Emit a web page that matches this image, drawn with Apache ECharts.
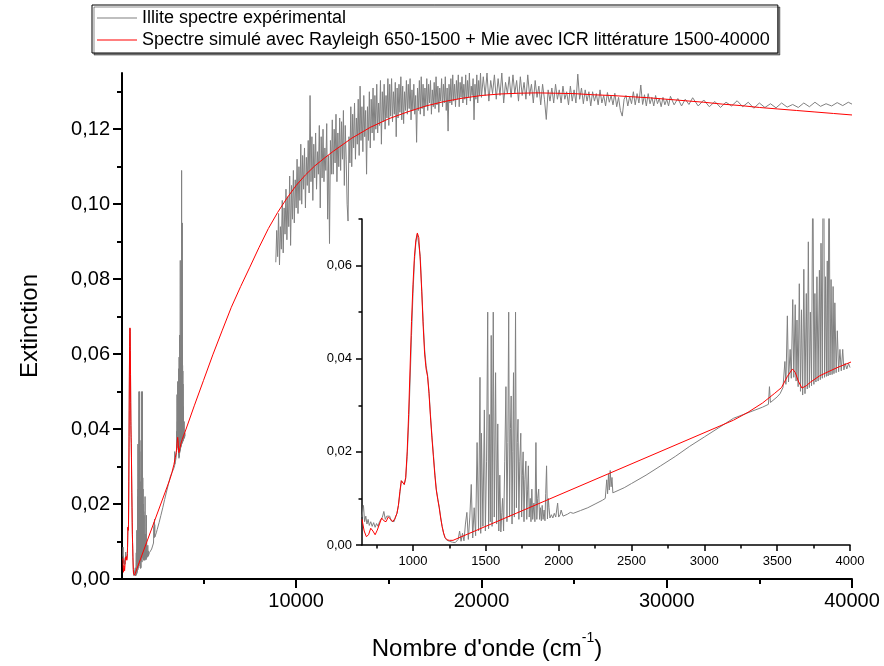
<!DOCTYPE html>
<html><head><meta charset="utf-8">
<script src="https://cdn.jsdelivr.net/npm/echarts@6/dist/echarts.min.js"></script>
<style>html,body{margin:0;padding:0;background:#fff}#c{width:884px;height:666px}</style>
</head><body><div id="c"></div><script>
const expName = 'Illite spectre expérimental';
const simName = 'Spectre simulé avec Rayleigh 650-1500 + Mie avec ICR littérature 1500-40000';
const xTitle = "Nombre d'onde (cm";
const xTitleSup = '-1';
const yTitle = 'Extinction';

const mainXTicks = [10000, 20000, 30000, 40000];
const mainXMinor = [5000, 15000, 25000, 35000];
const mainYTicks = [0, 0.02, 0.04, 0.06, 0.08, 0.10, 0.12];
const mainYMinor = [0.01, 0.03, 0.05, 0.07, 0.09, 0.11, 0.13];
const insetXTicks = [1000, 1500, 2000, 2500, 3000, 3500, 4000];
const insetXMinor = [750, 1250, 1750, 2250, 2750, 3250, 3750];
const insetYTicks = [0, 0.02, 0.04, 0.06];
const insetYMinor = [0.01, 0.03, 0.05, 0.07];

// experimental spectrum, infrared part (650-4000 cm-1)
const expIR = [
[650,0.0060],[660,0.0085],[668,0.0050],[676,0.0062],[684,0.0045],[692,0.0055],[700,0.0042],[710,0.0050],[720,0.0040],[730,0.0048],
[740,0.0038],[750,0.0046],[760,0.0040],[770,0.0050],[780,0.0048],[790,0.0060],[800,0.0072],[810,0.0055],[820,0.0062],[830,0.0058],
[840,0.0062],[850,0.0052],[860,0.0055],[870,0.0050],[880,0.0060],[890,0.0068],[900,0.0085],[910,0.0110],[920,0.0138],[930,0.0135],
[940,0.0130],[950,0.0142],[960,0.0190],[970,0.0260],[980,0.0350],[990,0.0450],[1000,0.0540],[1010,0.0610],[1020,0.0650],[1030,0.0668],
[1040,0.0665],[1050,0.0620],[1060,0.0550],[1070,0.0480],[1080,0.0420],[1090,0.0385],[1100,0.0365],[1110,0.0330],[1120,0.0280],[1130,0.0235],
[1140,0.0195],[1150,0.0155],[1160,0.0120],[1170,0.0100],[1180,0.0082],[1190,0.0060],[1200,0.0040],[1210,0.0025],[1220,0.0016],[1230,0.0011],
[1240,0.0009],[1250,0.0008],[1260,0.0007],[1270,0.0006],[1280,0.0006],[1290,0.0005],[1300,0.0006],[1310,0.0012],[1320,0.0030],[1330,0.0008],
[1340,0.0025],[1350,0.0009],[1360,0.0045],[1370,0.0070],[1380,0.0012],[1390,0.0060],[1400,0.0130],[1410,0.0015],[1420,0.0080],[1430,0.0020],
[1440,0.0220],[1450,0.0030],[1460,0.0360],[1465,0.0025],[1470,0.0240],[1480,0.0040],[1490,0.0290],[1497,0.0030],[1505,0.0180],[1513,0.0500],
[1519,0.0035],[1525,0.0280],[1531,0.0050],[1537,0.0450],[1543,0.0040],[1551,0.0500],[1558,0.0060],[1567,0.0370],[1574,0.0045],[1582,0.0260],
[1589,0.0030],[1596,0.0150],[1603,0.0028],[1610,0.0070],[1615,0.0100],[1622,0.0030],[1630,0.0180],[1638,0.0340],[1645,0.0050],[1651,0.0220],
[1657,0.0500],[1663,0.0060],[1669,0.0250],[1674,0.0320],[1680,0.0045],[1685,0.0200],[1690,0.0370],[1696,0.0060],[1704,0.0500],[1710,0.0080],
[1716,0.0220],[1721,0.0270],[1727,0.0055],[1733,0.0180],[1740,0.0240],[1746,0.0060],[1751,0.0150],[1756,0.0200],[1762,0.0050],[1768,0.0140],
[1775,0.0180],[1781,0.0055],[1787,0.0120],[1792,0.0170],[1798,0.0060],[1805,0.0100],[1810,0.0050],[1816,0.0120],[1822,0.0055],[1830,0.0090],
[1837,0.0050],[1844,0.0220],[1850,0.0055],[1856,0.0100],[1863,0.0120],[1869,0.0055],[1875,0.0080],[1881,0.0052],[1887,0.0085],[1893,0.0055],
[1900,0.0075],[1906,0.0052],[1911,0.0110],[1917,0.0170],[1923,0.0056],[1929,0.0100],[1934,0.0080],[1940,0.0058],[1950,0.0065],[1960,0.0058],
[1970,0.0068],[1980,0.0060],[1993,0.0090],[2000,0.0060],[2010,0.0065],[2017,0.0075],[2030,0.0062],[2060,0.0066],[2080,0.0070],[2100,0.0068],
[2150,0.0074],[2200,0.0080],[2250,0.0088],[2300,0.0096],[2320,0.0100],[2330,0.0140],[2336,0.0110],[2342,0.0152],[2348,0.0118],[2354,0.0160],
[2360,0.0125],[2366,0.0145],[2372,0.0112],[2380,0.0112],[2450,0.0123],[2500,0.0132],[2600,0.0150],[2700,0.0170],[2800,0.0190],[2900,0.0212],
[3000,0.0232],[3100,0.0252],[3150,0.0262],[3200,0.0272],[3300,0.0284],[3400,0.0296],[3440,0.0302],[3447,0.0340],[3454,0.0306],[3500,0.0318],
[3520,0.0325],[3540,0.0338],[3553,0.0394],[3560,0.0345],[3570,0.0492],[3578,0.0350],[3589,0.0420],[3597,0.0358],[3607,0.0527],[3614,0.0360],
[3624,0.0516],[3630,0.0352],[3636,0.0483],[3644,0.0340],[3652,0.0561],[3660,0.0330],[3667,0.0505],[3675,0.0322],[3683,0.0592],[3691,0.0325],
[3700,0.0540],[3707,0.0335],[3714,0.0651],[3721,0.0338],[3728,0.0500],[3736,0.0342],[3745,0.0850],[3752,0.0345],[3759,0.0540],[3766,0.0350],
[3773,0.0576],[3781,0.0352],[3790,0.0590],[3796,0.0355],[3801,0.0648],[3810,0.0358],[3818,0.1090],[3825,0.0360],[3832,0.0576],[3838,0.0362],
[3844,0.0610],[3850,0.0363],[3856,0.0950],[3863,0.0365],[3870,0.0570],[3877,0.0366],[3884,0.0555],[3890,0.0368],[3896,0.0520],[3905,0.0370],
[3913,0.0460],[3922,0.0372],[3931,0.0420],[3940,0.0374],[3950,0.0420],[3958,0.0376],[3967,0.0390],[3978,0.0378],[3990,0.0390],[4000,0.0381]
];

// experimental spectrum, visible/UV part (8900-40000 cm-1)
const expVisUV = [
[8900,0.0845],[8950,0.0930],[9000,0.0860],[9050,0.0975],[9100,0.0838],[9150,0.0940],[9200,0.0880],[9250,0.1010],[9300,0.0870],[9350,0.0990],
[9400,0.0920],[9450,0.1040],[9500,0.0905],[9550,0.1020],[9600,0.0940],[9650,0.1075],[9700,0.0890],[9750,0.1050],[9800,0.0960],[9850,0.1090],
[9900,0.0950],[9950,0.1065],[10000,0.0990],[10050,0.1120],[10100,0.0975],[10150,0.1100],[10200,0.1010],[10250,0.1160],[10300,0.1000],[10350,0.1130],
[10400,0.1040],[10450,0.1150],[10500,0.0990],[10550,0.1125],[10600,0.1050],[10650,0.1170],[10700,0.1030],[10750,0.1290],[10800,0.1060],[10850,0.1180],
[10900,0.1010],[10950,0.1160],[11000,0.1070],[11050,0.1190],[11100,0.1040],[11150,0.1140],[11200,0.1080],[11250,0.1210],[11300,0.0990],[11350,0.1180],
[11400,0.1070],[11450,0.1200],[11500,0.1060],[11550,0.1150],[11600,0.1090],[11650,0.1215],[11700,0.0960],[11750,0.1130],[11800,0.0895],[11850,0.1170],
[11900,0.1080],[11950,0.1225],[12000,0.1080],[12050,0.1200],[12100,0.1110],[12150,0.1240],[12200,0.1060],[12250,0.1190],[12300,0.1100],[12350,0.1230],
[12400,0.1090],[12450,0.1220],[12500,0.1120],[12550,0.1250],[12600,0.1050],[12650,0.1210],[12700,0.1120],[12750,0.1000],[12800,0.0955],[12850,0.1180],
[12900,0.1110],[12950,0.1260],[13000,0.1100],[13050,0.1240],[13100,0.1150],[13150,0.1270],[13200,0.1120],[13250,0.1230],[13300,0.1160],[13350,0.1280],
[13400,0.1130],[13450,0.1315],[13500,0.1170],[13550,0.1260],[13600,0.1140],[13650,0.1290],[13700,0.1180],[13750,0.1250],[13800,0.1080],[13850,0.1260],
[13900,0.1170],[13950,0.1300],[14000,0.1150],[14050,0.1280],[14100,0.1190],[14150,0.1310],[14200,0.1170],[14250,0.1290],[14300,0.1200],[14350,0.1320],
[14400,0.1190],[14450,0.1270],[14500,0.1210],[14550,0.1330],[14600,0.1160],[14650,0.1300],[14700,0.1220],[14750,0.1320],[14800,0.1200],[14850,0.1290],
[14900,0.1230],[14950,0.1335],[15000,0.1210],[15050,0.1320],[15100,0.1235],[15150,0.1335],[15200,0.1220],[15250,0.1300],[15300,0.1240],[15350,0.1325],
[15400,0.1180],[15450,0.1310],[15500,0.1230],[15550,0.1320],[15600,0.1245],[15650,0.1340],[15700,0.1225],[15750,0.1315],[15800,0.1215],[15850,0.1300],
[15900,0.1250],[15950,0.1330],[16000,0.1240],[16050,0.1320],[16100,0.1255],[16150,0.1335],[16200,0.1225],[16250,0.1305],[16300,0.1250],[16350,0.1320],
[16400,0.1240],[16450,0.1290],[16500,0.1165],[16550,0.1310],[16600,0.1250],[16650,0.1330],[16700,0.1240],[16750,0.1340],[16800,0.1255],[16850,0.1320],
[16900,0.1235],[16950,0.1310],[17000,0.1260],[17050,0.1335],[17100,0.1250],[17150,0.1320],[17200,0.1270],[17250,0.1330],[17300,0.1240],[17350,0.1305],
[17400,0.1260],[17450,0.1325],[17500,0.1255],[17550,0.1340],[17600,0.1265],[17650,0.1315],[17700,0.1245],[17750,0.1310],[17800,0.1275],[17850,0.1335],
[17900,0.1260],[17950,0.1320],[18000,0.1270],[18050,0.1340],[18100,0.1250],[18150,0.1310],[18200,0.1195],[18250,0.1320],[18300,0.1270],[18350,0.1335],
[18400,0.1265],[18450,0.1345],[18500,0.1275],[18550,0.1320],[18600,0.1260],[18650,0.1330],[18700,0.1280],[18750,0.1345],[18800,0.1260],[18850,0.1325],
[18900,0.1285],[18950,0.1340],[19000,0.1270],[19050,0.1320],[19100,0.1280],[19150,0.1345],[19200,0.1265],[19250,0.1330],[19300,0.1285],[19350,0.1350],
[19400,0.1275],[19450,0.1315],[19500,0.1290],[19550,0.1335],[19600,0.1225],[19650,0.1320],[19700,0.1280],[19750,0.1345],[19800,0.1270],[19850,0.1330],
[19900,0.1290],[19950,0.1350],[20000,0.1285],[20100,0.1340],[20200,0.1290],[20300,0.1350],[20400,0.1275],[20500,0.1330],[20600,0.1295],[20700,0.1345],
[20800,0.1280],[20900,0.1335],[21000,0.1290],[21100,0.1350],[21200,0.1270],[21300,0.1325],[21400,0.1295],[21500,0.1340],[21600,0.1285],[21700,0.1345],
[21800,0.1295],[21900,0.1330],[22000,0.1275],[22100,0.1340],[22200,0.1290],[22300,0.1325],[22400,0.1280],[22500,0.1345],[22600,0.1290],[22700,0.1320],
[22800,0.1270],[22900,0.1330],[23000,0.1285],[23100,0.1315],[23200,0.1265],[23300,0.1320],[23400,0.1280],[23500,0.1226],[23600,0.1305],[23700,0.1275],
[23800,0.1310],[23900,0.1270],[24000,0.1320],[24100,0.1280],[24200,0.1305],[24300,0.1270],[24400,0.1315],[24500,0.1280],[24600,0.1300],[24700,0.1265],
[24800,0.1315],[24900,0.1275],[25000,0.1305],[25100,0.1270],[25200,0.1347],[25300,0.1280],[25400,0.1310],[25500,0.1268],[25600,0.1305],[25700,0.1275],
[25800,0.1300],[25900,0.1262],[26000,0.1300],[26100,0.1275],[26200,0.1295],[26300,0.1265],[26400,0.1305],[26500,0.1270],[26600,0.1290],[26700,0.1262],
[26800,0.1298],[26900,0.1272],[27000,0.1290],[27100,0.1265],[27200,0.1296],[27300,0.1260],[27400,0.1285],[27500,0.1250],[27600,0.1235],[27700,0.1280],
[27800,0.1290],[27900,0.1262],[28000,0.1288],[28100,0.1268],[28200,0.1300],[28300,0.1265],[28400,0.1295],[28500,0.1270],[28600,0.1318],[28700,0.1266],
[28800,0.1292],[28900,0.1262],[29000,0.1295],[29100,0.1268],[29200,0.1285],[29300,0.1262],[29400,0.1290],[29500,0.1268],[29600,0.1282],[29700,0.1260],
[29800,0.1285],[29900,0.1265],[30000,0.1280],[30100,0.1262],[30200,0.1288],[30400,0.1265],[30600,0.1282],[30800,0.1262],[31000,0.1280],[31200,0.1266],
[31400,0.1284],[31700,0.1262],[32000,0.1278],[32300,0.1260],[32600,0.1274],[32900,0.1258],[33200,0.1272],[33500,0.1262],[33800,0.1276],[34100,0.1260],
[34400,0.1272],[34700,0.1256],[35000,0.1270],[35300,0.1258],[35600,0.1268],[35900,0.1257],[36200,0.1270],[36500,0.1259],[36800,0.1266],[37100,0.1258],
[37400,0.1270],[37700,0.1260],[38000,0.1272],[38300,0.1261],[38600,0.1268],[38900,0.1262],[39200,0.1271],[39500,0.1263],[39800,0.1272],[40000,0.1267]
];

// simulated spectrum
const simSpectrum = [
[650,0.0055],[665,0.0030],[680,0.0018],[695,0.0022],[710,0.0036],[725,0.0030],[740,0.0022],[755,0.0032],[770,0.0045],[785,0.0058],
[800,0.0052],[815,0.0050],[830,0.0060],[845,0.0056],[860,0.0050],[875,0.0056],[890,0.0068],[900,0.0085],[910,0.0115],[920,0.0138],
[930,0.0135],[940,0.0130],[950,0.0145],[960,0.0200],[970,0.0280],[980,0.0380],[990,0.0480],[1000,0.0560],[1010,0.0620],[1020,0.0655],
[1030,0.0670],[1040,0.0660],[1050,0.0610],[1060,0.0545],[1070,0.0470],[1080,0.0410],[1090,0.0378],[1100,0.0362],[1110,0.0325],[1120,0.0275],
[1130,0.0230],[1140,0.0190],[1150,0.0150],[1160,0.0118],[1170,0.0098],[1180,0.0080],[1190,0.0058],[1200,0.0040],[1210,0.0026],[1220,0.0016],
[1235,0.0011],[1250,0.0010],[1275,0.0010],[3200,0.0268],[3300,0.0285],[3400,0.0305],[3480,0.0325],[3530,0.0338],[3570,0.0362],[3605,0.0378],
[3625,0.0370],[3645,0.0352],[3670,0.0337],[3700,0.0342],[3730,0.0350],[3790,0.0363],[3850,0.0372],[3920,0.0382],[4000,0.0392],[4500,0.0462],
[5000,0.0530],[5500,0.0598],[6000,0.0662],[6500,0.0725],[7000,0.0780],[7500,0.0832],[8000,0.0885],[8500,0.0935],[9000,0.0978],[9500,0.1016],
[10000,0.1050],[10500,0.1078],[11000,0.1102],[11500,0.1122],[12000,0.1141],[13000,0.1176],[14000,0.1205],[15000,0.1228],[16000,0.1246],[17000,0.1262],
[18000,0.1274],[19000,0.1283],[20000,0.1290],[21000,0.1294],[22000,0.1296],[23000,0.1297],[24000,0.1296],[25000,0.1295],[26000,0.1292],[27000,0.1290],
[28000,0.1287],[29000,0.1284],[30000,0.1280],[31000,0.1276],[32000,0.1272],[33000,0.1267],[34000,0.1263],[35000,0.1258],[36000,0.1254],[37000,0.1250],
[38000,0.1246],[39000,0.1242],[40000,0.1238]
];

const expSpectrum = expIR.concat([[6500, null]], expVisUV);

const FONT = 'Liberation Sans, Arial, sans-serif';
const fmtY = v => v.toFixed(2).replace('.', ',');
const fmtX = v => String(v);

function axis(o) {
  return {
    type: 'value', gridIndex: o.grid, min: o.min, max: o.max, position: o.pos,
    axisLine: {show: o.line, onZero: false, lineStyle: {color: '#000', width: o.w}},
    axisTick: {show: true, inside: false, length: o.len, customValues: o.ticks, lineStyle: {color: '#000', width: o.w}},
    axisLabel: o.labels ? {show: true, customValues: o.ticks, fontSize: o.fs, color: '#000', fontFamily: FONT, margin: o.margin, formatter: o.fmt} : {show: false},
    splitLine: {show: false},
    name: o.name || '', nameLocation: 'middle', nameGap: o.nameGap || 0,
    nameTextStyle: o.nameStyle || {},
    silent: true
  };
}

const chart = echarts.init(document.getElementById('c'), null, {renderer: 'canvas'});
chart.setOption({
  animation: false,
  backgroundColor: '#fff',
  legend: {
    orient: 'vertical', left: 92, top: 5, padding: [3, 8, 3, 5],
    itemWidth: 40, itemHeight: 1, itemGap: 2,
    borderColor: '#000', borderWidth: 1, backgroundColor: '#fff',
    shadowColor: 'rgba(0,0,0,0.45)', shadowOffsetX: 2, shadowOffsetY: 2, shadowBlur: 0,
    selectedMode: false,
    textStyle: {fontSize: 18, color: '#000', fontFamily: FONT, lineHeight: 20},
    data: [{name: expName, icon: 'rect'}, {name: simName, icon: 'rect'}]
  },
  grid: [
    {left: 122, top: 73, width: 730, height: 509, containLabel: false},
    {left: 362, top: 219, width: 488, height: 326, containLabel: false}
  ],
  xAxis: [
    axis({grid: 0, min: 600, max: 40000, pos: 'bottom', line: true, w: 2, len: 9, ticks: mainXTicks, labels: true, fs: 20, margin: 12, fmt: fmtX,
      name: '{a|' + xTitle + '}{s|' + xTitleSup + '}{a|)}', nameGap: 52,
      nameStyle: {rich: {a: {fontSize: 24, fontFamily: FONT, color: '#000', lineHeight: 30, verticalAlign: 'bottom'}, s: {fontSize: 14, fontFamily: FONT, color: '#000', lineHeight: 14, verticalAlign: 'top'}}}}),
    axis({grid: 0, min: 600, max: 40000, pos: 'bottom', line: false, w: 2, len: 5, ticks: mainXMinor, labels: false}),
    axis({grid: 1, min: 650, max: 4000, pos: 'bottom', line: true, w: 1.5, len: 6, ticks: insetXTicks, labels: true, fs: 13, margin: 10, fmt: fmtX}),
    axis({grid: 1, min: 650, max: 4000, pos: 'bottom', line: false, w: 1.5, len: 3.5, ticks: insetXMinor, labels: false})
  ],
  yAxis: [
    axis({grid: 0, min: 0, max: 0.135, pos: 'left', line: true, w: 2, len: 9, ticks: mainYTicks, labels: true, fs: 20, margin: 12, fmt: fmtY,
      name: yTitle, nameGap: 80, nameStyle: {fontSize: 24, fontFamily: FONT, color: '#000'}}),
    axis({grid: 0, min: 0, max: 0.135, pos: 'left', line: false, w: 2, len: 5, ticks: mainYMinor, labels: false}),
    axis({grid: 1, min: 0, max: 0.07, pos: 'left', line: true, w: 1.5, len: 6, ticks: insetYTicks, labels: true, fs: 13, margin: 10, fmt: fmtY}),
    axis({grid: 1, min: 0, max: 0.07, pos: 'left', line: false, w: 1.5, len: 3.5, ticks: insetYMinor, labels: false})
  ],
  series: [
    {type: 'line', name: expName, xAxisIndex: 0, yAxisIndex: 0, data: expSpectrum, symbol: 'none', connectNulls: false,
      lineStyle: {color: '#808080', width: 1}, itemStyle: {color: '#808080'}, silent: true, z: 2},
    {type: 'line', name: simName, xAxisIndex: 0, yAxisIndex: 0, data: simSpectrum, symbol: 'none',
      lineStyle: {color: '#ff0000', width: 1}, itemStyle: {color: '#ff0000'}, silent: true, z: 3},
    {type: 'line', name: expName, xAxisIndex: 2, yAxisIndex: 2, data: expSpectrum, symbol: 'none', connectNulls: false, clip: true,
      lineStyle: {color: '#808080', width: 1}, itemStyle: {color: '#808080'}, silent: true, z: 4},
    {type: 'line', name: simName, xAxisIndex: 2, yAxisIndex: 2, data: simSpectrum, symbol: 'none', clip: true,
      lineStyle: {color: '#ff0000', width: 1}, itemStyle: {color: '#ff0000'}, silent: true, z: 5}
  ]
});
</script></body></html>
